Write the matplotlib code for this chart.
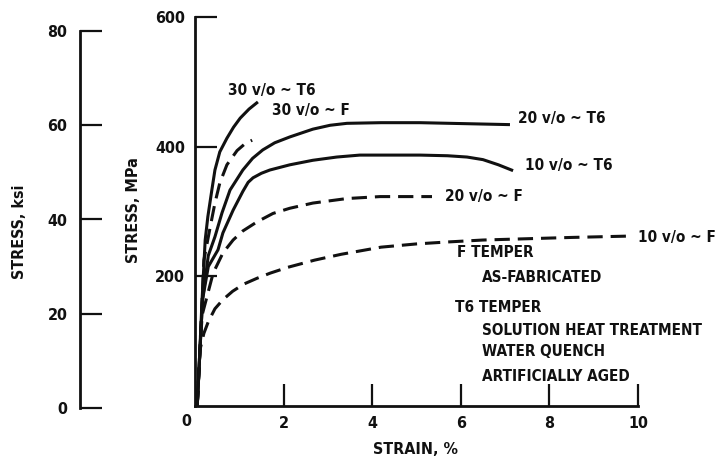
import matplotlib
matplotlib.use('Agg')
import matplotlib.pyplot as plt

plt.rcParams['font.family'] = ['DejaVu Sans']
plt.rcParams['font.stretch'] = 'condensed'
plt.rcParams['font.weight'] = 'bold'

# stress-strain curves, strain in %, stress in MPa
t6_30_strain = [0.05, 0.09, 0.16, 0.23, 0.29, 0.38, 0.45, 0.56, 0.72, 0.87, 1.02, 1.22, 1.42]
t6_30_stress = [0, 56, 164, 256, 292, 333, 364, 392, 413, 430, 444, 458, 469]

f_30_strain = [0.05, 0.09, 0.16, 0.2, 0.36, 0.45, 0.56, 0.72, 0.95, 1.12, 1.29]
f_30_stress = [0, 56, 164, 225, 282, 313, 344, 372, 394, 404, 410]

t6_20_strain = [0.05, 0.09, 0.17, 0.3, 0.45, 0.61, 0.79, 1.08, 1.3, 1.53, 1.8, 2.14, 2.66, 3.05, 3.43,
                4.2, 5.08, 6.43, 7.11]
t6_20_stress = [0, 56, 164, 232, 261, 298, 333, 364, 382, 395, 406, 415, 427, 433, 436,
                437, 437, 435, 434]

t6_10_strain = [0.05, 0.09, 0.17, 0.3, 0.52, 0.63, 0.86, 1.08, 1.2, 1.31, 1.5, 1.69, 2.14, 2.66,
                3.2, 3.72, 5.08, 5.7, 6.14, 6.5, 6.85, 7.18]
t6_10_stress = [0, 56, 164, 215, 241, 267, 302, 331, 345, 352, 359, 364, 372, 379,
                384, 387, 387, 386, 384, 380, 372, 363]

f_20_strain = [0.05, 0.09, 0.16, 0.41, 0.63, 0.86, 1.08, 1.4, 1.76, 2.14, 2.66, 3.43, 4.18, 5.35]
f_20_stress = [0, 56, 140, 205, 236, 256, 270, 284, 297, 305, 313, 320, 323, 323]

f_10_strain = [0.05, 0.08, 0.11, 0.2, 0.3, 0.45, 0.63, 0.85, 1.1, 1.4, 1.7, 2.1, 2.7, 3.3,
               4.2, 5.0, 5.7, 6.5, 7.5, 8.5, 9.75]
f_10_stress = [0, 40, 86, 112, 130, 150, 164, 177, 188, 197, 205, 214, 225, 234,
               245, 250, 253, 256, 258, 260, 262]

x_ticks = [0, 2, 4, 6, 8, 10]
mpa_ticks = [200, 400, 600]
ksi_ticks = [0, 20, 40, 60, 80]

W, H = 718, 465
fig = plt.figure(figsize=(W / 100, H / 100), dpi=100)
ink = '#111111'
fs = 11.5
fs_note = 11


def fx(x):
    return x / W


def fy(y):
    return 1 - y / H


# main MPa axes
ax = fig.add_axes([fx(195), fy(406), 443 / W, 389 / H])
ax.set_xlim(0, 10)
ax.set_ylim(0, 600)
for side in ['top', 'right']:
    ax.spines[side].set_visible(False)
for side in ['left', 'bottom']:
    ax.spines[side].set_linewidth(2)
    ax.spines[side].set_color(ink)
ax.set_xticks(x_ticks)
ax.set_xticklabels([''] + [str(v) for v in x_ticks[1:]])
ax.set_yticks(mpa_ticks)
ax.set_yticklabels([str(v) for v in mpa_ticks])
ax.tick_params(direction='in', length=16, width=1.6, color=ink, labelsize=fs,
               labelcolor=ink, pad=7)
ax.xaxis.get_major_ticks()[0].tick1line.set_visible(False)
# the zero sits a little left of the stress axis
fig.text(fx(186), fy(422), str(x_ticks[0]), fontsize=fs, color=ink, ha='center', va='center')

lw = 2.2
solid = dict(color=ink, lw=lw, clip_on=False, solid_capstyle='butt')
dashed = dict(color=ink, lw=lw, clip_on=False, ls=(0, (5, 2.6)))
ax.plot(t6_30_strain, t6_30_stress, **solid)
ax.plot(t6_20_strain, t6_20_stress, **solid)
ax.plot(t6_10_strain, t6_10_stress, **solid)
ax.plot(f_30_strain, f_30_stress, **dashed)
ax.plot(f_20_strain, f_20_stress, **dashed)
ax.plot(f_10_strain, f_10_stress, **dashed)

# curve labels
lab = dict(fontsize=fs_note, color=ink, va='center', ha='left')
fig.text(fx(228), fy(90), '30 v/o ~ T6', **lab)
fig.text(fx(272), fy(110), '30 v/o ~ F', **lab)
fig.text(fx(518), fy(119), '20 v/o ~ T6', **lab)
fig.text(fx(525), fy(165), '10 v/o ~ T6', **lab)
fig.text(fx(445), fy(197), '20 v/o ~ F', **lab)
fig.text(fx(638), fy(237), '10 v/o ~ F', **lab)

# temper notes
fig.text(fx(457), fy(252), 'F TEMPER', **lab)
fig.text(fx(482), fy(277), 'AS-FABRICATED', **lab)
fig.text(fx(455), fy(307), 'T6 TEMPER', **lab)
fig.text(fx(482), fy(330), 'SOLUTION HEAT TREATMENT', **lab)
fig.text(fx(482), fy(352), 'WATER QUENCH', **lab)
fig.text(fx(482), fy(376), 'ARTIFICIALLY AGED', **lab)

# secondary ksi scale
ax2 = fig.add_axes([fx(80), fy(408), 0.05, 377 / H])
ax2.set_ylim(0, 80)
ax2.set_xticks([])
ax2.patch.set_visible(False)
for side in ['top', 'right', 'bottom']:
    ax2.spines[side].set_visible(False)
ax2.spines['left'].set_linewidth(2)
ax2.spines['left'].set_color(ink)
ax2.set_yticks(ksi_ticks)
ax2.set_yticklabels([str(v) for v in ksi_ticks])
ax2.tick_params(direction='in', length=16, width=1.6, color=ink, labelsize=fs,
                labelcolor=ink, pad=9)

# axis titles
fig.text(fx(20), fy(232), 'STRESS, ksi', rotation=90, fontsize=fs, color=ink,
         ha='center', va='center')
fig.text(fx(133), fy(210), 'STRESS, MPa', rotation=90, fontsize=fs, color=ink,
         ha='center', va='center')
fig.text(fx(415), fy(449), 'STRAIN, %', fontsize=fs, color=ink,
         ha='center', va='center')

fig.savefig('out.png', dpi=100)
